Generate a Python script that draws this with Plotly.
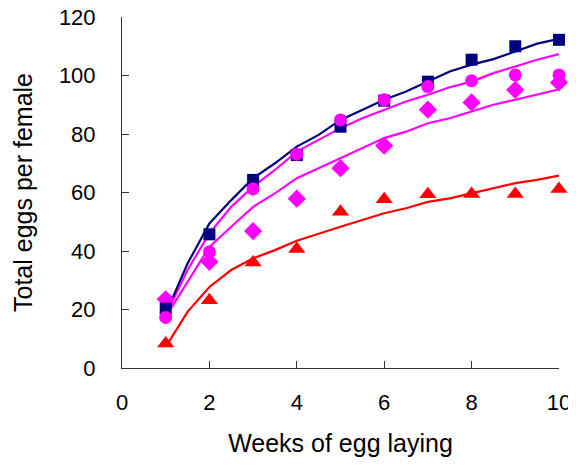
import plotly.graph_objects as go

# Observed data (weeks 1..10)
weeks = [1, 2, 3, 4, 5, 6, 7, 8, 9, 10]
squares = [20.3, 45.7, 64.3, 72.8, 82.5, 91.4, 97.9, 105.4, 110.0, 112.2]
circles = [17.3, 39.7, 61.2, 73.1, 84.8, 91.7, 96.2, 98.2, 100.2, 100.2]
diamonds = [23.5, 36.3, 46.8, 57.9, 68.3, 76.0, 88.3, 90.8, 95.1, 97.6]
triangles = [8.4, 23.2, 36.1, 40.7, 53.4, 57.7, 59.4, 59.5, 59.5, 61.2]

# Fitted curves
fit_x = [1, 1.5, 2, 2.5, 3, 3.5, 4, 4.5, 5, 5.5, 6, 6.5, 7, 7.5, 8, 8.5, 9, 9.5, 10]
fit_navy = [18.6, 35.7, 49.4, 57.4, 64.9, 70.0, 75.7, 79.7, 84.8, 88.3, 91.7, 94.5,
            97.9, 101.4, 103.7, 105.6, 108.2, 110.9, 112.5]
fit_mag_upper = [18.0, 33.5, 46.0, 55.1, 62.0, 67.7, 74.0, 78.0, 82.0, 85.4, 88.3, 91.1,
                 93.4, 96.0, 97.9, 100.8, 103.1, 105.4, 107.3]
fit_mag_lower = [17.5, 29.5, 41.4, 48.3, 55.1, 59.7, 64.9, 68.3, 71.7, 75.1, 78.6, 80.8,
                 83.7, 85.4, 87.7, 90.0, 91.7, 93.4, 95.3]
fit_red = [7.2, 19.2, 27.7, 33.5, 37.5, 40.3, 43.5, 46.0, 48.3, 50.6, 52.9, 54.6,
           56.8, 58.0, 59.7, 61.4, 63.2, 64.3, 65.8]

x_ticks = [0, 2, 4, 6, 8, 10]
y_ticks = [0, 20, 40, 60, 80, 100, 120]

NAVY = "#000080"
MAG = "#FF00FF"
RED = "#FF0000"

fig = go.Figure()
fig.add_trace(go.Scatter(x=fit_x, y=fit_red, mode="lines", line=dict(color=RED, width=2.2), cliponaxis=False))
fig.add_trace(go.Scatter(x=fit_x, y=fit_mag_lower, mode="lines", line=dict(color=MAG, width=2.2), cliponaxis=False))
fig.add_trace(go.Scatter(x=fit_x, y=fit_mag_upper, mode="lines", line=dict(color=MAG, width=2.2), cliponaxis=False))
fig.add_trace(go.Scatter(x=fit_x, y=fit_navy, mode="lines", line=dict(color=NAVY, width=2.2), cliponaxis=False))

fig.add_trace(go.Scatter(x=weeks, y=triangles, mode="markers", cliponaxis=False,
                         marker=dict(symbol="triangle-up", size=15, color=RED)))
fig.add_trace(go.Scatter(x=weeks, y=diamonds, mode="markers", cliponaxis=False,
                         marker=dict(symbol="diamond", size=14, color=MAG)))
fig.add_trace(go.Scatter(x=weeks, y=squares, mode="markers", cliponaxis=False,
                         marker=dict(symbol="square", size=12, color=NAVY)))
fig.add_trace(go.Scatter(x=weeks, y=circles, mode="markers", cliponaxis=False,
                         marker=dict(symbol="circle", size=13, color=MAG)))

axis_font = dict(family="Liberation Sans, Arial, sans-serif", size=22, color="black")
title_font = dict(family="Liberation Sans, Arial, sans-serif", size=25, color="black")

# page body has an 8px default margin, so the figure is sized to fit the window
fig.update_layout(
    width=568, height=457,
    margin=dict(l=114, r=17, t=9, b=97),
    paper_bgcolor="white", plot_bgcolor="white",
    showlegend=False,
    xaxis=dict(range=[0, 10], tickvals=x_ticks, ticktext=[str(v) for v in x_ticks],
               automargin=False, ticklabeloverflow="allow",
               showgrid=False, zeroline=False, showline=True, linecolor="#333333", linewidth=1,
               ticks="inside", ticklen=7, tickcolor="#333333", tickfont=axis_font,
               ticklabelstandoff=15,
               title=dict(text="Weeks of egg laying", font=title_font, standoff=20)),
    yaxis=dict(range=[0, 120], tickvals=y_ticks, ticktext=[str(v) for v in y_ticks],
               automargin=False, ticklabeloverflow="allow",
               showgrid=False, zeroline=False, showline=True, linecolor="#333333", linewidth=1,
               ticks="inside", ticklen=7, tickcolor="#333333", tickfont=axis_font,
               ticklabelstandoff=21,
               title=dict(text="Total eggs per female", font=title_font, standoff=19)),
)

fig.write_html("out.html")
